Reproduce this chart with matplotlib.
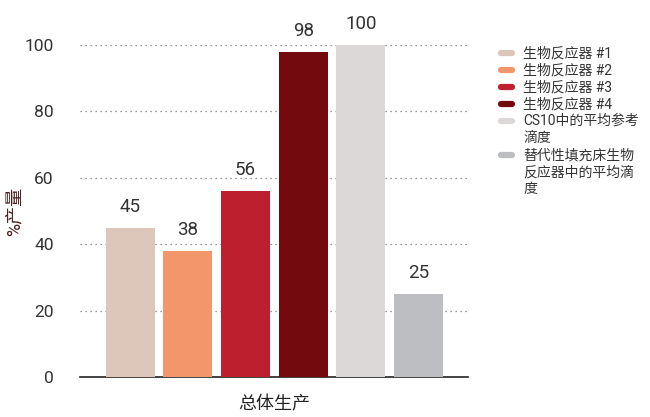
import matplotlib
matplotlib.use("Agg")
import matplotlib.pyplot as plt
from matplotlib.lines import Line2D

plt.rcParams['font.family'] = ['Roboto', 'Noto Sans CJK SC', 'DejaVu Sans']

# data
labels = ["生物反应器 #1", "生物反应器 #2", "生物反应器 #3", "生物反应器 #4",
          "CS10中的平均参考\n滴度", "替代性填充床生物\n反应器中的平均滴\n度"]
values = [45, 38, 56, 98, 100, 25]
colors = ["#dcc7ba", "#f2976b", "#be1f2e", "#730a0e", "#dcd8d7", "#bdbec1"]
yticks = [0, 20, 40, 60, 80, 100]

W, H = 650, 417
fig = plt.figure(figsize=(W / 100, H / 100), dpi=100)
ax = fig.add_axes([0.123, 0.096, 0.597, 0.796])

xs = list(range(len(values)))
ax.bar(xs, values, width=0.85, color=colors, zorder=3)
for x, v in zip(xs, values):
    ax.text(x, v + 3.5, str(v), ha='center', va='bottom', fontsize=13.5,
            color='#333333', clip_on=False)

ax.set_xlim(-0.875, 5.86)
ax.set_ylim(0, 100)
ax.set_yticks(yticks)
ax.set_xticks([])
ax.yaxis.grid(True, linestyle=(0, (1, 3)), color='#777777', linewidth=0.9, zorder=0)
for s in ['top', 'right', 'left']:
    ax.spines[s].set_visible(False)
ax.spines['bottom'].set_color('#222222')
ax.spines['bottom'].set_linewidth(1.2)
ax.tick_params(axis='y', length=0, pad=19, labelsize=12.5, labelcolor='#333333')

ax.set_ylabel("%产量", fontsize=13, color='#4a2020')
ax.yaxis.set_label_coords(-0.145, 0.5)
ax.set_xlabel("总体生产", fontsize=13, color='#222222', labelpad=13)

# legend drawn by hand so the swatch sits on the first line of wrapped labels
row = 0
for lab, c in zip(labels, colors):
    y = 1 - (53 + 17 * row) / H
    fig.add_artist(Line2D([501 / W, 512 / W], [y, y], color=c, lw=4.5,
                          solid_capstyle='round', transform=fig.transFigure))
    for part in lab.split("\n"):
        yy = 1 - (53 + 17 * row) / H
        fig.text(523 / W, yy, part, fontsize=10, color='#333333',
                 ha='left', va='center')
        row += 1

fig.savefig("out.png", dpi=100)
